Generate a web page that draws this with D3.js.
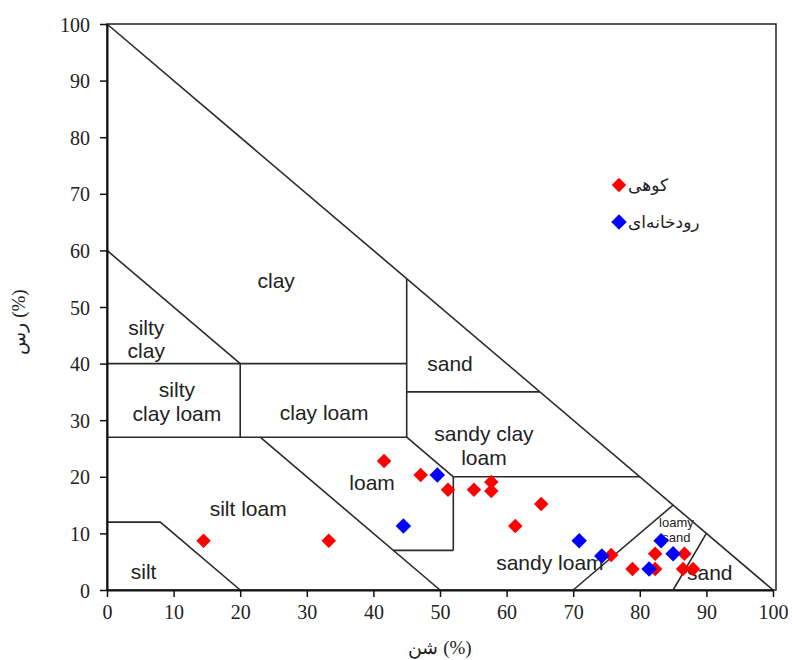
<!DOCTYPE html>
<html>
<head>
<meta charset="utf-8">
<script src="https://cdn.jsdelivr.net/npm/d3@7"></script>
<style>
  html, body { margin: 0; padding: 0; background: #fff; }
  svg { display: block; }
</style>
</head>
<body>
<svg id="chart" width="792" height="660"></svg>
<script>
// Sand (%) on x, clay (%) on y — soil texture samples
const mountainSand = [14.5, 33.3, 41.6, 47.1, 51.2, 55.1, 57.7, 57.7, 61.3, 65.2, 75.7, 78.9, 82.3, 82.3, 86.7, 86.5, 88.0];
const mountainClay = [8.7, 8.7, 22.8, 20.3, 17.7, 17.7, 19.1, 17.5, 11.3, 15.2, 6.2, 3.7, 6.4, 3.7, 6.4, 3.7, 3.7];
const riverSand = [44.5, 49.6, 70.9, 74.3, 81.4, 83.2, 85.0];
const riverClay = [11.3, 20.3, 8.7, 6.0, 3.7, 8.7, 6.4];

const seriesNames = ["کوهی", "رودخانه‌ای"];
const tickValues = [0, 10, 20, 30, 40, 50, 60, 70, 80, 90, 100];

// Texture class boundaries as [sand, clay] polylines
const boundaries = [
  [[0, 100], [100, 0]],
  [[0, 60], [20, 40]],
  [[0, 40], [45, 40]],
  [[20, 40], [20, 27]],
  [[0, 27], [45, 27]],
  [[45, 55], [45, 27]],
  [[45, 35], [65, 35]],
  [[45, 27], [52, 20]],
  [[52, 20], [80, 20]],
  [[52, 20], [52, 7]],
  [[43, 7], [52, 7]],
  [[23, 27], [50, 0]],
  [[0, 12], [8, 12], [20, 0]],
  [[70, 0], [85, 15]],
  [[85, 0], [90, 10]]
];

// Class names: lines of text and anchor in [sand, clay]
const classLabels = [
  { lines: ["clay"], at: [25.4, 54.6] },
  { lines: ["silty", "clay"], at: [5.9, 44.3] },
  { lines: ["sand"], at: [51.5, 40.0] },
  { lines: ["silty", "clay loam"], at: [10.5, 33.3] },
  { lines: ["clay loam"], at: [32.6, 31.4] },
  { lines: ["sandy clay", "loam"], at: [56.6, 25.5] },
  { lines: ["loam"], at: [39.8, 18.9] },
  { lines: ["silt loam"], at: [21.2, 14.3] },
  { lines: ["sandy loam"], at: [66.5, 4.9] },
  { lines: ["silt"], at: [5.5, 3.2] },
  { lines: ["sand"], at: [90.5, 3.0] }
];

const svg = d3.select("#chart");
const x = d3.scaleLinear().domain([0, 100]).range([107, 773]);
const y = d3.scaleLinear().domain([0, 100]).range([590, 24]);

// Plot frame
svg.append("rect")
  .attr("x", x(0)).attr("y", y(100))
  .attr("width", x(100) + 3 - x(0)).attr("height", y(0) - y(100))
  .attr("fill", "none").attr("stroke", "#222").attr("stroke-width", 1.5);

// Texture boundaries
const line = d3.line().x(d => x(d[0])).y(d => y(d[1]));
svg.append("g").selectAll("path").data(boundaries).join("path")
  .attr("d", line)
  .attr("fill", "none").attr("stroke", "#2a2a2a").attr("stroke-width", 1.6);

// Axes
const xAxis = svg.append("g").attr("transform", `translate(0,${y(0)})`)
  .call(d3.axisBottom(x).tickValues(tickValues).tickSize(7).tickPadding(8).tickSizeOuter(0));
const yAxis = svg.append("g").attr("transform", `translate(${x(0)},0)`)
  .call(d3.axisLeft(y).tickValues(tickValues).tickSize(7).tickPadding(10).tickSizeOuter(0));
[xAxis, yAxis].forEach(g => {
  g.select(".domain").attr("stroke", "#111").attr("stroke-width", 2);
  g.selectAll(".tick line").attr("stroke", "#111").attr("stroke-width", 1.5);
  g.selectAll(".tick text")
    .attr("fill", "#222")
    .style("font-family", "'Liberation Serif', 'Times New Roman', serif")
    .style("font-size", "20px");
});
yAxis.selectAll(".tick text").attr("dy", "0.35em");

// Axis titles
svg.append("text")
  .attr("x", 440).attr("y", 654)
  .attr("text-anchor", "middle")
  .style("font-family", "'Liberation Serif', 'Times New Roman', serif")
  .style("font-size", "19px").attr("fill", "#222")
  .text("شن (%)");
svg.append("text")
  .attr("transform", "translate(25,322) rotate(-90)")
  .attr("text-anchor", "middle")
  .style("font-family", "'Liberation Serif', 'Times New Roman', serif")
  .style("font-size", "19px").attr("fill", "#222")
  .text("رس (%)");

// Class names
const labelSize = 21;
const labelG = svg.append("g")
  .style("font-family", "'Liberation Sans', Arial, sans-serif")
  .style("font-size", labelSize + "px").attr("fill", "#222");
classLabels.forEach(c => {
  const t = labelG.append("text")
    .attr("x", x(c.at[0])).attr("y", y(c.at[1]))
    .attr("text-anchor", "middle");
  c.lines.forEach((s, i) => {
    t.append("tspan").attr("x", x(c.at[0])).attr("dy", i === 0 ? "0.35em" : "1.12em").text(s);
  });
  if (c.lines.length > 1) t.attr("transform", `translate(0,${-0.56 * labelSize * (c.lines.length - 1)})`);
});
// Small loamy sand label
const ls = labelG.append("text")
  .attr("x", x(85.5)).attr("y", y(11.2))
  .attr("text-anchor", "middle").style("font-size", "13px");
ls.append("tspan").attr("x", x(85.5)).attr("dy", "0").text("loamy");
ls.append("tspan").attr("x", x(85.5)).attr("dy", "1.15em").text("sand");

// Sample points
const diamond = size => d3.symbol(d3.symbolSquare, size)();
const mountain = mountainSand.map((s, i) => [s, mountainClay[i]]);
const river = riverSand.map((s, i) => [s, riverClay[i]]);
svg.append("g").selectAll("path").data(mountain).join("path")
  .attr("d", diamond(105))
  .attr("transform", d => `translate(${x(d[0])},${y(d[1])}) rotate(45)`)
  .attr("fill", "#ff0000");
svg.append("g").selectAll("path").data(river).join("path")
  .attr("d", diamond(120))
  .attr("transform", d => `translate(${x(d[0])},${y(d[1])}) rotate(45)`)
  .attr("fill", "#0000ff");

// Legend
const legend = [
  { name: seriesNames[0], color: "#ff0000", size: 105, cy: 185 },
  { name: seriesNames[1], color: "#0000ff", size: 120, cy: 222 }
];
const lg = svg.append("g");
legend.forEach(l => {
  lg.append("path").attr("d", diamond(l.size))
    .attr("transform", `translate(619,${l.cy}) rotate(45)`)
    .attr("fill", l.color);
  lg.append("text").attr("x", 628).attr("y", l.cy).attr("dy", "0.35em")
    .attr("text-anchor", "start")
    .style("font-family", "'Liberation Sans', Arial, 'DejaVu Sans', sans-serif")
    .style("font-size", "17px").attr("fill", "#222")
    .text(l.name);
});
</script>
</body>
</html>
